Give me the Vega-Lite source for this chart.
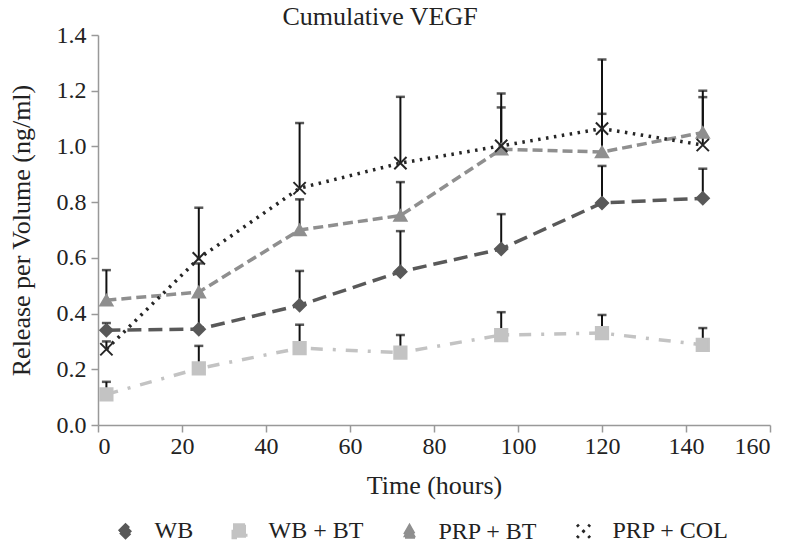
{
  "$schema": "https://vega.github.io/schema/vega-lite/v6.json",
  "autosize": {"type": "none"},
  "width": 672,
  "height": 390,
  "padding": {"left": 98, "top": 35, "right": 30, "bottom": 125},
  "background": "white",
  "title": {"text": "Cumulative VEGF", "font": "Liberation Serif", "fontSize": 26, "fontWeight": "normal", "color": "#222", "anchor": "middle", "dx": -54, "offset": -7},
  "config": {
    "view": {"stroke": null},
    "font": "Liberation Serif",
    "axis": {"labelFont": "Liberation Serif", "titleFont": "Liberation Serif", "labelFontSize": 24, "titleFontSize": 26, "titleFontWeight": "normal", "labelColor": "#222", "titleColor": "#222", "domainColor": "#999", "tickColor": "#999", "grid": false, "domainWidth": 1.5, "tickWidth": 1.5, "tickSize": 7},
    "legend": {"orient": "none", "legendX": 15.5, "legendY": 484, "direction": "horizontal", "columns": 4, "columnPadding": 33, "padding": 0, "symbolSize": 169, "symbolStrokeWidth": 3, "labelOffset": 17, "labelFont": "Liberation Serif", "labelFontSize": 24, "labelColor": "#222"}
  },
  "data": {"values": [
    {"series": "WB", "t": 2, "v": 0.34, "top": 0.366},
    {"series": "WB", "t": 24, "v": 0.344, "top": 0.47},
    {"series": "WB", "t": 48, "v": 0.43, "top": 0.553},
    {"series": "WB", "t": 72, "v": 0.55, "top": 0.696},
    {"series": "WB", "t": 96, "v": 0.632, "top": 0.757},
    {"series": "WB", "t": 120, "v": 0.797, "top": 0.93},
    {"series": "WB", "t": 144, "v": 0.814, "top": 0.92},
    {"series": "WB + BT", "t": 2, "v": 0.11, "top": 0.155},
    {"series": "WB + BT", "t": 24, "v": 0.203, "top": 0.284},
    {"series": "WB + BT", "t": 48, "v": 0.276, "top": 0.36},
    {"series": "WB + BT", "t": 72, "v": 0.26, "top": 0.323},
    {"series": "WB + BT", "t": 96, "v": 0.323, "top": 0.405},
    {"series": "WB + BT", "t": 120, "v": 0.33, "top": 0.395},
    {"series": "WB + BT", "t": 144, "v": 0.288, "top": 0.348},
    {"series": "PRP + BT", "t": 2, "v": 0.448, "top": 0.556},
    {"series": "PRP + BT", "t": 24, "v": 0.477, "top": 0.58},
    {"series": "PRP + BT", "t": 48, "v": 0.70, "top": 0.81},
    {"series": "PRP + BT", "t": 72, "v": 0.752, "top": 0.872},
    {"series": "PRP + BT", "t": 96, "v": 0.99, "top": 1.14},
    {"series": "PRP + BT", "t": 120, "v": 0.98, "top": 1.117},
    {"series": "PRP + BT", "t": 144, "v": 1.05, "top": 1.177},
    {"series": "PRP + COL", "t": 2, "v": 0.272, "top": 0.30},
    {"series": "PRP + COL", "t": 24, "v": 0.598, "top": 0.78},
    {"series": "PRP + COL", "t": 48, "v": 0.85, "top": 1.084},
    {"series": "PRP + COL", "t": 72, "v": 0.94, "top": 1.178},
    {"series": "PRP + COL", "t": 96, "v": 1.002, "top": 1.19},
    {"series": "PRP + COL", "t": 120, "v": 1.064, "top": 1.312},
    {"series": "PRP + COL", "t": 144, "v": 1.005, "top": 1.20}
  ]},
  "encoding": {
    "x": {"field": "t", "type": "quantitative", "title": "Time (hours)", "scale": {"domain": [0, 160], "nice": false}, "axis": {"values": [0, 20, 40, 60, 80, 100, 120, 140, 160], "titlePadding": 14, "labelPadding": 2}},
    "y": {"field": "v", "type": "quantitative", "title": "Release per Volume (ng/ml)", "scale": {"domain": [0, 1.4], "nice": false}, "axis": {"values": [0, 0.2, 0.4, 0.6, 0.8, 1.0, 1.2, 1.4], "format": ".1f", "titlePadding": 22, "labelPadding": 5}}
  },
  "layer": [
    {
      "mark": {"type": "rule", "color": "#111", "strokeWidth": 2},
      "encoding": {"y2": {"field": "top"}}
    },
    {
      "mark": {"type": "tick", "orient": "horizontal", "color": "#111", "thickness": 2.5, "size": 9},
      "encoding": {"y": {"field": "top", "type": "quantitative"}}
    },
    {
      "mark": {"type": "line", "strokeWidth": 3.5},
      "encoding": {
        "color": {"field": "series", "type": "nominal",
          "scale": {"domain": ["WB", "WB + BT", "PRP + BT", "PRP + COL"], "range": ["#595959", "#c3c3c3", "#8f8f8f", "#262626"]},
          "legend": {"title": null, "encode": {"symbols": {"update": {
              "shape": {"signal": "datum.value === 'WB' ? 'M-3.6,0L-1,0M1,0L3.6,0M0,-1L0.9,0L0,1L-0.9,0Z' : datum.value === 'WB + BT' ? 'M-3.6,0L-1.6,0M-0.85,-0.85L0.85,-0.85L0.85,0.85L-0.85,0.85ZM2.3,0L2.8,0' : datum.value === 'PRP + BT' ? 'M-3.6,0L-2.4,0M-1.7,0L1.7,0M2.4,0L3.6,0M0,-0.95L0.95,0.8L-0.95,0.8Z' : 'M-3.5,0L-3.1,0M-2.4,0L-2,0M2,0L2.4,0M3.1,0L3.5,0M-0.8,-0.8L0.8,0.8M-0.8,0.8L0.8,-0.8'"},
              "strokeDash": {"value": []}
            }}}}},
        "strokeDash": {"field": "series", "type": "nominal", "scale": {"domain": ["WB", "WB + BT", "PRP + BT", "PRP + COL"], "range": [[14, 7], [12, 10, 3, 10], [10, 5], [2.5, 5.5]]},
          "legend": {"title": null, "encode": {"symbols": {"update": {
              "shape": {"signal": "datum.value === 'WB' ? 'M-3.6,0L-1,0M1,0L3.6,0M0,-1L0.9,0L0,1L-0.9,0Z' : datum.value === 'WB + BT' ? 'M-3.6,0L-1.6,0M-0.85,-0.85L0.85,-0.85L0.85,0.85L-0.85,0.85ZM2.3,0L2.8,0' : datum.value === 'PRP + BT' ? 'M-3.6,0L-2.4,0M-1.7,0L1.7,0M2.4,0L3.6,0M0,-0.95L0.95,0.8L-0.95,0.8Z' : 'M-3.5,0L-3.1,0M-2.4,0L-2,0M2,0L2.4,0M3.1,0L3.5,0M-0.8,-0.8L0.8,0.8M-0.8,0.8L0.8,-0.8'"},
              "strokeDash": {"value": []}
            }}}}}
      }
    },
    {
      "mark": {"type": "point", "filled": false, "opacity": 1, "strokeWidth": 2, "size": 150},
      "encoding": {
        "color": {"field": "series", "type": "nominal",
          "legend": {"title": null, "encode": {"symbols": {"update": {
              "shape": {"signal": "datum.value === 'WB' ? 'M-3.6,0L-1,0M1,0L3.6,0M0,-1L0.9,0L0,1L-0.9,0Z' : datum.value === 'WB + BT' ? 'M-3.6,0L-1.6,0M-0.85,-0.85L0.85,-0.85L0.85,0.85L-0.85,0.85ZM2.3,0L2.8,0' : datum.value === 'PRP + BT' ? 'M-3.6,0L-2.4,0M-1.7,0L1.7,0M2.4,0L3.6,0M0,-0.95L0.95,0.8L-0.95,0.8Z' : 'M-3.5,0L-3.1,0M-2.4,0L-2,0M2,0L2.4,0M3.1,0L3.5,0M-0.8,-0.8L0.8,0.8M-0.8,0.8L0.8,-0.8'"},
              "strokeDash": {"value": []}
            }}}}},
        "fill": {"field": "series", "type": "nominal", "scale": {"domain": ["WB", "WB + BT", "PRP + BT", "PRP + COL"], "range": ["#595959", "#c3c3c3", "#8f8f8f", "transparent"]},
          "legend": {"title": null, "encode": {"symbols": {"update": {
              "shape": {"signal": "datum.value === 'WB' ? 'M-3.6,0L-1,0M1,0L3.6,0M0,-1L0.9,0L0,1L-0.9,0Z' : datum.value === 'WB + BT' ? 'M-3.6,0L-1.6,0M-0.85,-0.85L0.85,-0.85L0.85,0.85L-0.85,0.85ZM2.3,0L2.8,0' : datum.value === 'PRP + BT' ? 'M-3.6,0L-2.4,0M-1.7,0L1.7,0M2.4,0L3.6,0M0,-0.95L0.95,0.8L-0.95,0.8Z' : 'M-3.5,0L-3.1,0M-2.4,0L-2,0M2,0L2.4,0M3.1,0L3.5,0M-0.8,-0.8L0.8,0.8M-0.8,0.8L0.8,-0.8'"},
              "strokeDash": {"value": []}
            }}}}},
        "shape": {"field": "series", "type": "nominal", "scale": {"domain": ["WB", "WB + BT", "PRP + BT", "PRP + COL"], "range": ["diamond", "square", "triangle-up", "M-1,-1L1,1M-1,1L1,-1"]},
          "legend": {"title": null, "encode": {"symbols": {"update": {
              "shape": {"signal": "datum.value === 'WB' ? 'M-3.6,0L-1,0M1,0L3.6,0M0,-1L0.9,0L0,1L-0.9,0Z' : datum.value === 'WB + BT' ? 'M-3.6,0L-1.6,0M-0.85,-0.85L0.85,-0.85L0.85,0.85L-0.85,0.85ZM2.3,0L2.8,0' : datum.value === 'PRP + BT' ? 'M-3.6,0L-2.4,0M-1.7,0L1.7,0M2.4,0L3.6,0M0,-0.95L0.95,0.8L-0.95,0.8Z' : 'M-3.5,0L-3.1,0M-2.4,0L-2,0M2,0L2.4,0M3.1,0L3.5,0M-0.8,-0.8L0.8,0.8M-0.8,0.8L0.8,-0.8'"},
              "strokeDash": {"value": []}
            }}}}}
      }
    }
  ]
}
